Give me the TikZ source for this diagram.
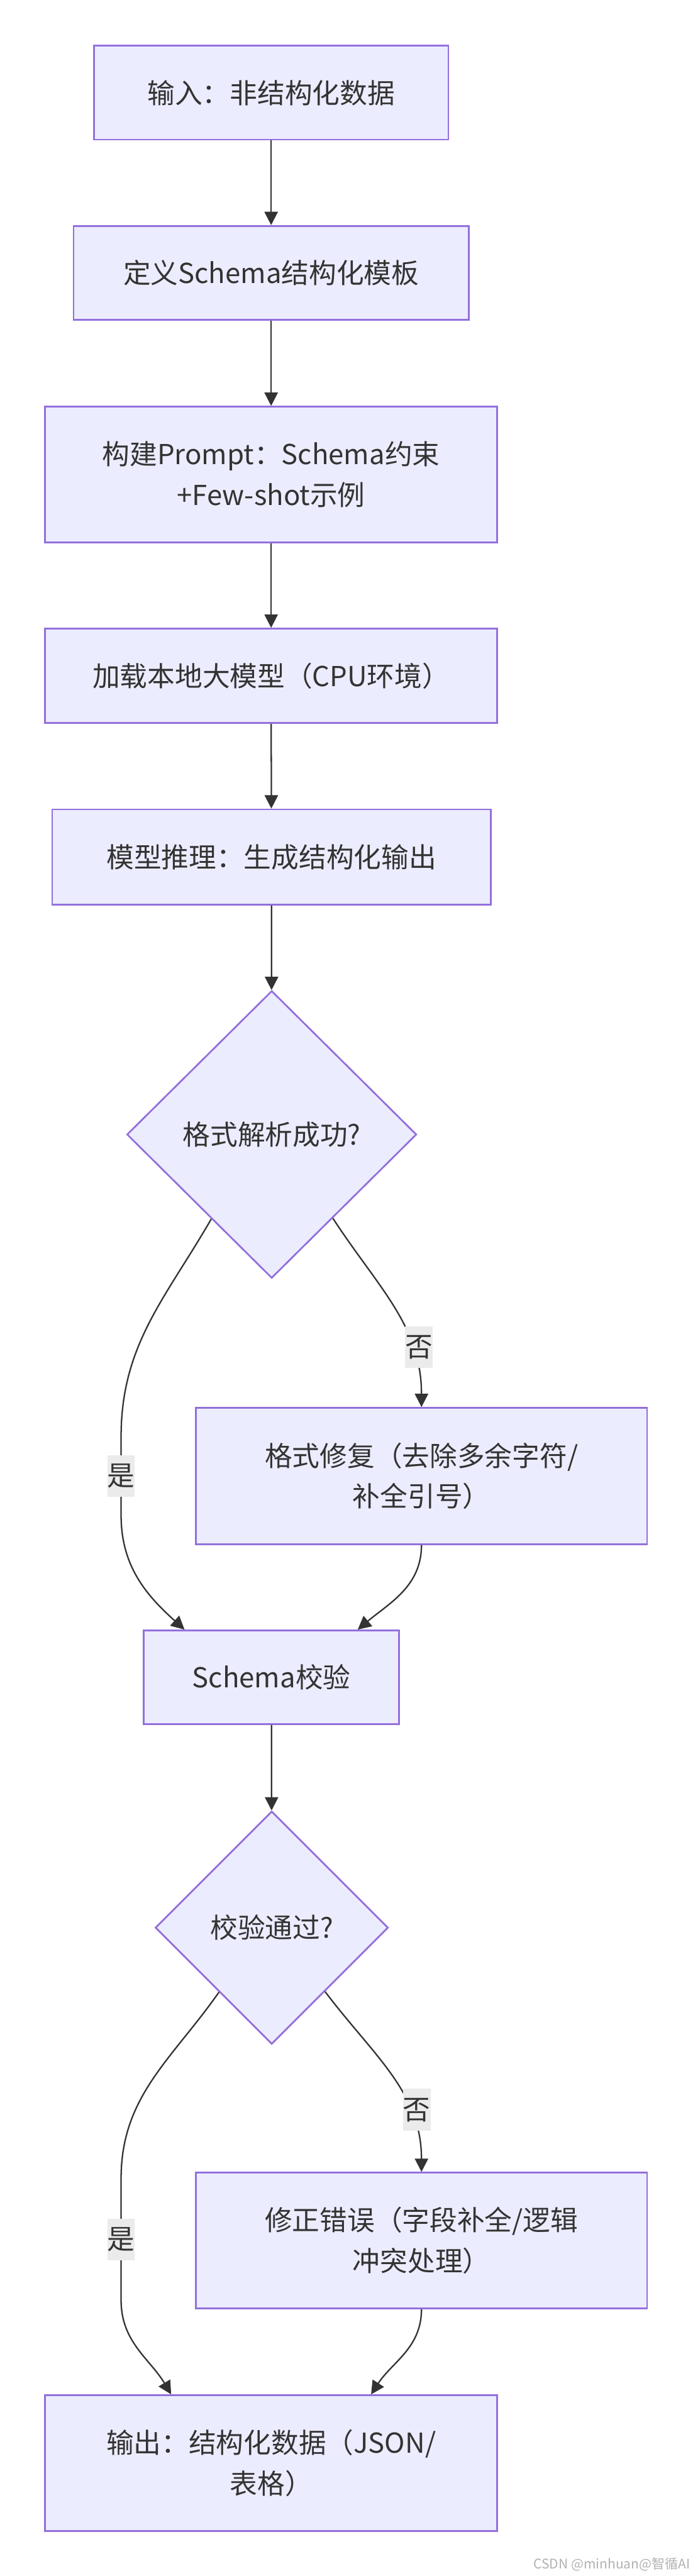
\documentclass[tikz,border=0pt]{standalone}
\usepackage{fontspec}
\setmainfont{Noto Sans CJK SC}
\usetikzlibrary{arrows.meta,shapes.geometric,calc}
\definecolor{boxfill}{HTML}{ECECFF}
\definecolor{boxline}{HTML}{9370DB}
\definecolor{darkline}{HTML}{333333}
\definecolor{lblfill}{HTML}{EBEBEB}
\begin{document}
\begin{tikzpicture}[
  box/.style = {draw = boxline, fill = boxfill, line width = 0.85pt, text = darkline, align = center, inner sep = 0pt, font = \fontsize{13.5pt}{20pt}\selectfont},
  decision/.style = {box, diamond, aspect = 1},
  flow/.style = {draw = darkline, line width = 0.7pt, -{Triangle[length = 2.3mm, width = 2.3mm]}},
  lbl/.style = {fill = lblfill, text = darkline, inner sep = 0pt, minimum width = 0.47cm, minimum height = 0.72cm, font = \fontsize{13.5pt}{20pt}\selectfont}
]
\useasboundingbox (0,0) rectangle (11.96,-44.46);
\fill[white] (0,0) rectangle (11.96,-44.46);
\node[box, minimum width = 6.12cm, minimum height = 1.62cm] at (4.68,-1.60) (inp) {输入：非结构化数据};
\node[box, minimum width = 6.82cm, minimum height = 1.62cm] at (4.68,-4.71) (schema) {定义Schema结构化模板};
\node[box, minimum width = 7.80cm, minimum height = 2.34cm] at (4.68,-8.19) (prompt) {构建Prompt：Schema约束\\+Few-shot示例};
\node[box, minimum width = 7.80cm, minimum height = 1.63cm] at (4.68,-11.665) (load) {加载本地大模型（CPU环境）};
\node[box, minimum width = 7.57cm, minimum height = 1.64cm] at (4.685,-14.79) (infer) {模型推理：生成结构化输出};
\node[decision, minimum width = 5.00cm, minimum height = 4.96cm] at (4.69,-19.58) (dec1) {格式解析成功?};
\node[box, minimum width = 7.79cm, minimum height = 2.35cm] at (7.275,-25.475) (fix1) {格式修复（去除多余字符/\\补全引号）};
\node[box, minimum width = 4.41cm, minimum height = 1.62cm] at (4.685,-28.95) (check) {Schema校验};
\node[decision, minimum width = 4.02cm, minimum height = 4.02cm] at (4.69,-33.27) (dec2) {校验通过?};
\node[box, minimum width = 7.79cm, minimum height = 2.34cm] at (7.275,-38.67) (fix2) {修正错误（字段补全/逻辑\\冲突处理）};
\node[box, minimum width = 7.80cm, minimum height = 2.34cm] at (4.68,-42.51) (result) {输出：结构化数据（JSON/\\表格）};
\node[anchor = south east, text = gray!60, inner sep = 0pt, font = \fontsize{6.5pt}{8pt}\selectfont] at (11.92,-44.38) (mark) {CSDN @minhuan@智循AI};
\coordinate (yes1a) at (2.09,-24.80);
\coordinate (yes1b) at (2.09,-26.15);
\coordinate (yes2a) at (2.09,-37.60);
\coordinate (yes2b) at (2.09,-39.70);
\draw[flow] (inp) -- (schema);
\draw[flow] (schema) -- (prompt);
\draw[flow] (prompt) -- (load);
\draw[flow] (load) -- (infer);
\draw[flow] (infer) -- (dec1);
\draw[flow] ($(dec1.south east)!0.16!(dec1.south)$) to[out = -57, in = 90] node[lbl, pos = 0.72, xshift = 0.12cm] (no1) {否} (fix1.north);
\draw[flow] ($(dec1.south west)!0.17!(dec1.south)$) to[out = -120, in = 90] (yes1a) -- node[lbl] (yes1) {是} (yes1b) to[out = -90, in = 138] ($(check.north west)+(0.72,0)$);
\draw[flow] (fix1.south) to[out = -90, in = 40] ($(check.north east)+(-0.73,0)$);
\draw[flow] (check) -- (dec2);
\draw[flow] ($(dec2.south east)!0.09!(dec2.south)$) to[out = -53, in = 90] node[lbl, pos = 0.7, xshift = 0.12cm] (no2) {否} (fix2.north);
\draw[flow] ($(dec2.south west)!0.1!(dec2.south)$) to[out = -125, in = 90] (yes2a) -- node[lbl] (yes2) {是} (yes2b) to[out = -90, in = 121] ($(result.north west)+(2.19,0)$);
\draw[flow] (fix2.south) to[out = -90, in = 57] ($(result.north east)+(-2.19,0)$);
\end{tikzpicture}
\end{document}
